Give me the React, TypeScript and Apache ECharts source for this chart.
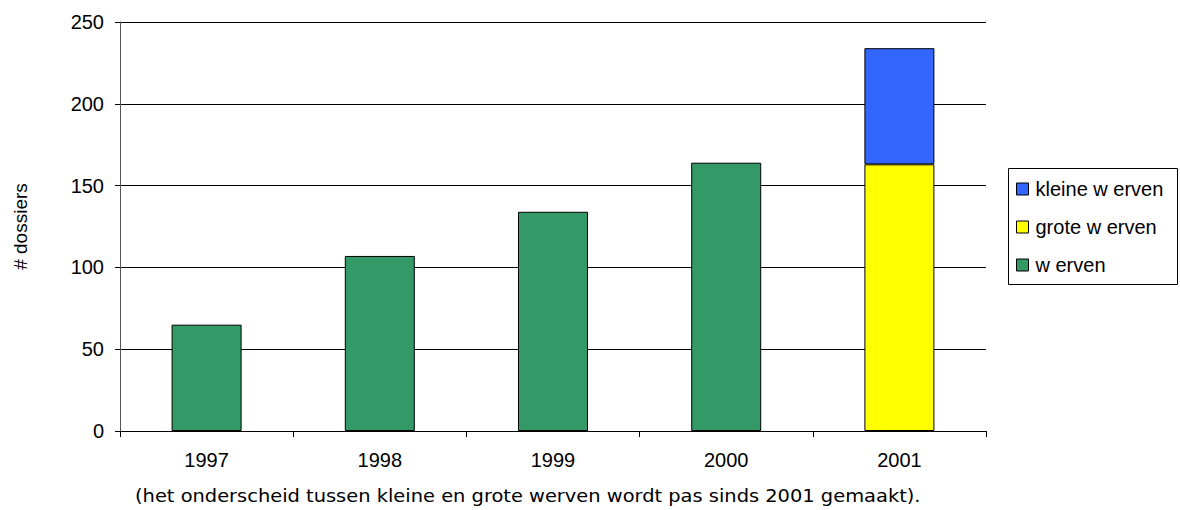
import React, { useEffect, useRef } from "react";
import * as echarts from "echarts";

const categories = ["1997", "1998", "1999", "2000", "2001"];
const werven = [65, 107, 134, 164, null];
const groteWerven = [null, null, null, null, 163];
const kleineWerven = [null, null, null, null, 71];
const yTicks = { min: 0, max: 250, interval: 50 };
const yAxisName = "# dossiers";
const legendNames = ["kleine w erven", "grote w erven", "w erven"];
const footnote = "(het onderscheid tussen kleine en grote werven wordt pas sinds 2001 gemaakt).";

const FONT = "'Liberation Sans', Arial, sans-serif";

export default function App() {
  const ref = useRef<HTMLDivElement>(null);
  useEffect(() => {
    if (!ref.current) return;
    const chart = echarts.init(ref.current, undefined, { renderer: "svg" });
    const barStyle = (color: string) => ({ color, borderColor: "#000", borderWidth: 1 });
    chart.setOption({
      animation: false,
      textStyle: { fontFamily: FONT },
      grid: { left: 120, top: 22, right: 194, bottom: 79, containLabel: false },
      legend: {
        orient: "vertical",
        left: 1008,
        top: 168,
        data: legendNames,
        icon: "rect",
        itemWidth: 12,
        itemHeight: 12,
        itemGap: 18,
        padding: [11, 10, 10, 8],
        borderWidth: 0,
        itemStyle: { borderColor: "#000", borderWidth: 1 },
        textStyle: { fontSize: 20, lineHeight: 20, color: "#000", fontFamily: FONT, padding: [0, 0, 0, 2] },
      },
      xAxis: {
        type: "category",
        data: categories,
        axisLine: { lineStyle: { color: "#000" } },
        axisTick: { show: true, alignWithLabel: false, length: 6, lineStyle: { color: "#000" } },
        axisLabel: { fontSize: 20, color: "#000", fontFamily: FONT, margin: 19 },
      },
      yAxis: {
        type: "value",
        min: yTicks.min,
        max: yTicks.max,
        interval: yTicks.interval,
        name: yAxisName,
        nameLocation: "middle",
        nameGap: 90,
        nameTextStyle: { fontSize: 19, color: "#000", fontFamily: FONT },
        axisLine: { show: true, lineStyle: { color: "#555" } },
        axisTick: { show: true, length: 5, lineStyle: { color: "#000" } },
        axisLabel: { fontSize: 20, color: "#000", fontFamily: FONT, margin: 16 },
        splitLine: { lineStyle: { color: "#000", width: 1 } },
      },
      series: [
        { name: legendNames[2], type: "bar", stack: "s", data: werven, barWidth: 70, itemStyle: barStyle("#339966") },
        { name: legendNames[1], type: "bar", stack: "s", data: groteWerven, barWidth: 70, itemStyle: barStyle("#FFFF00") },
        { name: legendNames[0], type: "bar", stack: "s", data: kleineWerven, barWidth: 70, itemStyle: barStyle("#3366FF") },
      ],
      graphic: [
        {
          type: "rect",
          shape: { x: 1008.5, y: 168.5, width: 169, height: 116 },
          style: { fill: "none", stroke: "#000", lineWidth: 1 },
          silent: true,
        },
        {
          type: "text",
          x: 135,
          y: 487,
          scaleX: 1.2,
          style: { text: footnote, fontSize: 18, fill: "#000", fontFamily: "DejaVu Sans Condensed" },
        },
      ],
    });
    return () => chart.dispose();
  }, []);
  return (
    <div
      ref={ref}
      style={{ position: "absolute", left: 0, top: 0, width: 1180, height: 510, background: "#fff" }}
    />
  );
}
